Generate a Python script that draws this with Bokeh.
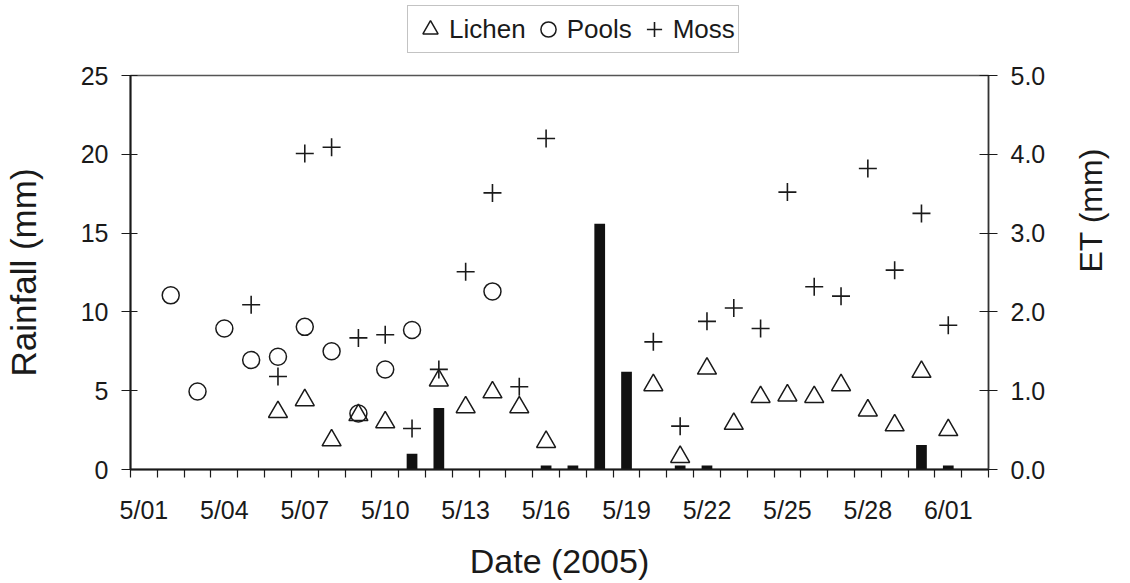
import math

from bokeh.plotting import figure
from bokeh.layouts import column
from bokeh.models import (Range1d, LinearAxis, FixedTicker, Legend, LegendItem,
                          ColumnDataSource, NumeralTickFormatter)
from bokeh.embed import file_html
from bokeh.resources import INLINE

# Daily record, 5/01 .. 6/01 (32 days, day index 0..31)
n_days = 32
tick_days = [0, 3, 6, 9, 12, 15, 18, 21, 24, 27, 30]
tick_labels = ["5/01", "5/04", "5/07", "5/10", "5/13", "5/16",
               "5/19", "5/22", "5/25", "5/28", "6/01"]

# Rainfall (mm), left axis
rain = [0, 0, 0, 0, 0, 0, 0, 0, 0, 0, 1.0, 3.9, 0, 0, 0, 0.25,
        0.25, 15.6, 6.2, 0, 0.25, 0.25, 0, 0, 0, 0, 0, 0, 0, 1.55, 0.25, 0]

# Evapotranspiration (mm), right axis
lichen = [None, None, None, None, None, 0.73, 0.88, 0.37, 0.69, 0.60, None,
          1.13, 0.79, 0.98, 0.79, 0.35, None, None, None, 1.07, 0.16, 1.28,
          0.58, 0.92, 0.94, 0.92, 1.07, 0.75, 0.56, 1.24, 0.50, None]
pools = [None, 2.21, 0.99, 1.79, 1.39, 1.43, 1.81, 1.50, 0.71, 1.27, 1.77,
         None, None, 2.26, None, None, None, None, None, None, None, None,
         None, None, None, None, None, None, None, None, None, None]
moss = [None, None, None, None, 2.09, 1.18, 4.01, 4.09, 1.67, 1.71, 0.52,
        1.27, 2.51, 3.51, 1.05, 4.20, None, None, None, 1.62, 0.55, 1.88,
        2.05, 1.79, 3.52, 2.32, 2.20, 3.82, 2.53, 3.25, 1.83, None]

series_names = ["Lichen", "Pools", "Moss"]

FONT = "Liberation Sans"
INK = "#1a1a1a"
MARKERS = {
    "Lichen": dict(marker="triangle", size=19, fill_color=None,
                   line_color=INK, line_width=1.5),
    "Pools": dict(marker="circle", size=17, fill_color=None,
                  line_color=INK, line_width=1.5),
    "Moss": dict(marker="cross", size=18, line_color=INK, line_width=1.6),
}


def present(values):
    xs = [d for d, v in enumerate(values) if v is not None and v > 0]
    ys = [values[d] for d in xs]
    return ColumnDataSource(dict(x=xs, y=ys))


sources = {name: present(v) for name, v in zip(series_names, [lichen, pools, moss])}

# ---- main chart -----------------------------------------------------------
p = figure(width=1130, height=523, output_backend="svg", toolbar_location=None,
           x_range=Range1d(-0.5, n_days - 0.5), y_range=Range1d(0, 25),
           min_border_left=129, min_border_right=141,
           min_border_top=15, min_border_bottom=114)
p.extra_y_ranges = {"et": Range1d(0, 5)}
p.xgrid.visible = False
p.ygrid.visible = False
p.outline_line_color = "#555555"
p.outline_line_width = 1.5
p.background_fill_color = "white"
p.border_fill_color = "white"

# Rainfall bars
p.vbar(x="x", top="y", width=0.4, source=present(rain),
       fill_color="#111111", line_color=None)

# ET markers
for name in series_names:
    p.scatter("x", "y", source=sources[name], y_range_name="et", **MARKERS[name])

# Date axis: day boundaries as tick marks, labels every third day
xa = p.xaxis[0]
xa.ticker = FixedTicker(ticks=tick_days,
                        minor_ticks=[d - 0.5 for d in range(n_days + 1)])
xa.major_label_overrides = dict(zip(tick_days, tick_labels))
xa.major_tick_out = 0
xa.major_tick_in = 0
xa.minor_tick_out = 8
xa.minor_tick_in = 0
xa.minor_tick_line_color = INK
xa.minor_tick_line_width = 1.2
xa.axis_line_color = INK
xa.axis_line_width = 2
xa.major_label_standoff = 18
xa.major_label_text_font = FONT
xa.major_label_text_font_size = "25px"
xa.major_label_text_color = INK
xa.axis_label = "Date (2005)"
xa.axis_label_text_font = FONT
xa.axis_label_text_font_size = "34px"
xa.axis_label_text_font_style = "normal"
xa.axis_label_text_color = INK
xa.axis_label_standoff = 15

# Rainfall axis
ya = p.yaxis[0]
ya.ticker = FixedTicker(ticks=[0, 5, 10, 15, 20, 25])
ya.minor_tick_line_color = None
ya.major_tick_out = 9
ya.major_tick_in = 7
ya.major_tick_line_color = INK
ya.axis_line_color = INK
ya.axis_line_width = 2
ya.major_label_standoff = 13
ya.major_label_text_font = FONT
ya.major_label_text_font_size = "25px"
ya.major_label_text_color = INK
ya.axis_label = "Rainfall (mm)"
ya.axis_label_text_font = FONT
ya.axis_label_text_font_size = "35px"
ya.axis_label_text_font_style = "normal"
ya.axis_label_text_color = INK
ya.axis_label_standoff = 35

# ET axis
ra = LinearAxis(y_range_name="et", ticker=FixedTicker(ticks=[0, 1, 2, 3, 4, 5]),
                formatter=NumeralTickFormatter(format="0.0"))
ra.minor_tick_line_color = None
ra.major_tick_out = 9
ra.major_tick_in = 9
ra.major_tick_line_color = INK
ra.axis_line_color = "#333333"
ra.axis_line_width = 1.5
ra.major_label_standoff = 13
ra.major_label_text_font = FONT
ra.major_label_text_font_size = "25px"
ra.major_label_text_color = INK
ra.axis_label = "ET (mm)"
ra.axis_label_text_font = FONT
ra.axis_label_text_font_size = "32px"
ra.axis_label_text_font_style = "normal"
ra.axis_label_text_color = INK
ra.axis_label_standoff = 43
ra.axis_label_orientation = math.pi / 2   # read bottom-to-top
p.add_layout(ra, "right")

# ---- legend strip above the chart -----------------------------------------
# The strip shares the series' sources but looks at an empty window of them,
# so only the legend itself is visible there.
key = figure(width=1130, height=60, output_backend="svg", toolbar_location=None,
             x_range=Range1d(-0.5, n_days - 0.5), y_range=Range1d(-2, -1),
             x_axis_type=None, y_axis_type=None,
             min_border=0, outline_line_color=None)
key.xgrid.visible = False
key.ygrid.visible = False
items = []
for name in series_names:
    r = key.scatter("x", "y", source=sources[name], **MARKERS[name])
    items.append(LegendItem(label=name, renderers=[r]))

legend = Legend(items=items, orientation="horizontal", location=(277, 7),
                glyph_width=38, glyph_height=40, label_standoff=0,
                label_width=20, spacing=3, padding=3, margin=0,
                label_text_font=FONT, label_text_font_size="26px",
                label_text_color=INK, border_line_color="#888888",
                border_line_width=1.2, background_fill_color="white",
                background_fill_alpha=1.0)
key.add_layout(legend)

page = column(key, p, spacing=0)
open("out.html", "w").write(file_html(page, INLINE))
